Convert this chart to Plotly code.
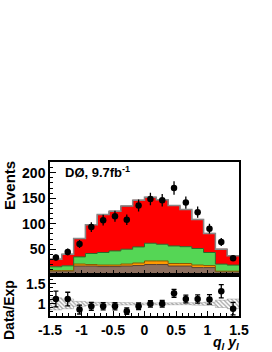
import plotly.graph_objects as go
import numpy as np

# ---- data ----
edges = [-1.5 + i * 0.1875 for i in range(17)]
centers = [(edges[i] + edges[i + 1]) / 2 for i in range(16)]

brown = [7, 7, 17, 17, 16, 16, 17, 18, 20, 20, 17, 17, 14, 14, 6, 6]
orange = [1, 1, 4, 3, 3, 3, 4, 5, 7, 7, 5, 5, 5, 4, 1, 1]
green = [7.6, 9.5, 14, 21.6, 24.6, 27.7, 29, 31.5, 34.7, 32.7, 34.4, 33, 32.4, 25.6, 13.8, 11.9]
red = [14.9, 22.5, 35.8, 56.4, 74.4, 77.8, 84.5, 91.5, 90.1, 87.3, 79.2, 72.8, 57, 37.4, 29.2, 18.1]

data = [33.8, 44.8, 60.3, 93.4, 107, 114.8, 107.8, 135.6, 148.6, 146, 170, 141.4, 122.6, 90.3, 64.2, 32.5]
ratio = [1.12, 1.12, 0.86, 0.94, 0.94, 0.94, 0.82, 0.94, 1.0, 1.0, 1.26, 1.12, 1.12, 1.11, 1.31, 0.88]
band = [0.15, 0.12, 0.06, 0.04, 0.03, 0.03, 0.03, 0.02, 0.02, 0.02, 0.02, 0.02, 0.03, 0.04, 0.09, 0.12]

layers = [
    ("brown", brown, "#8E7060", "#5a4030"),
    ("orange", orange, "#FF9A00", "#8a5a00"),
    ("green", green, "#55D655", "#2a6a2a"),
    ("red", red, "#FF0000", "#700000"),
]

W, H = 272, 352
ML, MT = 50, 162
plot_w, plot_h = 189, 154
MR = W - ML - plot_w
MB = H - MT - plot_h


def px_to_paper(px, py):
    return (px - ML) / plot_w, (H - MB - py) / plot_h


fig = go.Figure()
cum = np.zeros(16)
first = True
for name, vals, fc, lc in layers:
    cum = cum + np.array(vals)
    ys = list(cum) + [cum[-1]]
    fig.add_trace(go.Scatter(
        x=edges, y=ys, mode="lines", line=dict(shape="hv", color=lc, width=1),
        fill="tozeroy" if first else "tonexty", fillcolor=fc,
        showlegend=False, hoverinfo="skip", xaxis="x", yaxis="y"))
    first = False
total = cum
fig.add_trace(go.Scatter(
    x=edges, y=list(total) + [total[-1]], mode="lines",
    line=dict(shape="hv", color="#888888", width=1.5),
    showlegend=False, hoverinfo="skip", xaxis="x", yaxis="y"))

fig.add_trace(go.Scatter(
    x=centers, y=data, mode="markers",
    marker=dict(color="black", size=6.5),
    error_y=dict(type="data", array=[np.sqrt(v) for v in data], color="black", thickness=1.3, width=0),
    showlegend=False, xaxis="x", yaxis="y"))

# ratio band (hatched)
bx, by = [], []
for i in range(16):
    bx += [edges[i], edges[i + 1]]
    by += [1 + band[i], 1 + band[i]]
for i in reversed(range(16)):
    bx += [edges[i + 1], edges[i]]
    by += [1 - band[i], 1 - band[i]]
fig.add_trace(go.Scatter(
    x=bx, y=by, mode="lines", fill="toself", line=dict(width=0.5, color="rgba(90,90,90,0.6)"),
    fillcolor="rgba(255,255,255,0)",
    fillpattern=dict(shape="\\", fgcolor="#444444", size=3, solidity=0.4),
    showlegend=False, hoverinfo="skip", xaxis="x2", yaxis="y2"))

ratio_err = [r / np.sqrt(d) for r, d in zip(ratio, data)]
fig.add_trace(go.Scatter(
    x=centers, y=ratio, mode="markers",
    marker=dict(color="black", size=6.5),
    error_y=dict(type="data", array=ratio_err, color="black", thickness=1.3, width=2.5),
    showlegend=False, xaxis="x2", yaxis="y2"))

tickfont = dict(family="Liberation Sans", size=14, color="black", weight="bold")
axcommon = dict(showline=True, linecolor="black", linewidth=1.5, mirror=True, automargin=False,
                ticks="inside", tickcolor="black", showgrid=False, zeroline=False)

ev_x, ev_y = px_to_paper(9, 186)
de_x, de_y = px_to_paper(9, 310)
xt_x, xt_y = px_to_paper(241, 332)

fig.update_layout(
    width=W, height=H,
    margin=dict(l=ML, r=MR, t=MT, b=MB, autoexpand=False),
    paper_bgcolor="white", plot_bgcolor="white",
    xaxis=dict(domain=[0, 1], anchor="y", range=[-1.5, 1.5], showticklabels=False,
               tickvals=[-1.5, -1, -0.5, 0, 0.5, 1, 1.5], ticklen=5,
               minor=dict(ticks="inside", ticklen=3, dtick=0.1, tickcolor="black"), **axcommon),
    yaxis=dict(domain=[0.268, 1], anchor="x", range=[0, 221], tickvals=[50, 100, 150, 200],
               ticklen=6, tickfont=tickfont,
               minor=dict(ticks="inside", ticklen=3, dtick=10, tickcolor="black"), **axcommon),
    xaxis2=dict(domain=[0, 1], anchor="y2", range=[-1.5, 1.5], matches="x",
                tickvals=[-1.5, -1, -0.5, 0, 0.5, 1, 1.5], ticktext=["-1.5", "-1", "-0.5", "0", "0.5", "1", "1.5"],
                ticklen=5, tickfont=tickfont,
                minor=dict(ticks="inside", ticklen=3, dtick=0.1, tickcolor="black"), **axcommon),
    yaxis2=dict(domain=[0, 0.268], anchor="x2", range=[0.7, 1.72], tickvals=[1, 1.5],
                ticktext=["1", "1.5"], ticklen=6, tickfont=tickfont,
                minor=dict(ticks="inside", ticklen=3, dtick=0.1, tickcolor="black"), **axcommon),
    annotations=[
        dict(text="DØ, 9.7fb<sup>-1</sup>", x=-1.3, y=201, xref="x", yref="y",
             xanchor="left", yanchor="middle", showarrow=False,
             font=dict(family="Liberation Sans", size=13, color="black", weight="bold")),
        dict(text="Events", x=ev_x, y=ev_y, xref="paper", yref="paper", showarrow=False,
             xanchor="center", yanchor="middle",
             textangle=-90, font=dict(family="Liberation Sans", size=15, color="black", weight="bold")),
        dict(text="Data/Exp", x=de_x, y=de_y, xref="paper", yref="paper", showarrow=False,
             xanchor="center", yanchor="middle",
             textangle=-90, font=dict(family="Liberation Sans", size=14, color="black", weight="bold")),
        dict(text="<i>q<sub>l</sub> y<sub>l</sub></i>", x=xt_x, y=xt_y, xref="paper", yref="paper",
             xanchor="right", yanchor="top", showarrow=False,
             font=dict(family="Liberation Sans", size=14, color="black", weight="bold")),
    ],
)

fig.write_html("out.html", config={"displayModeBar": False},
               post_script="document.body.style.margin='0';document.body.style.overflow='hidden';")
